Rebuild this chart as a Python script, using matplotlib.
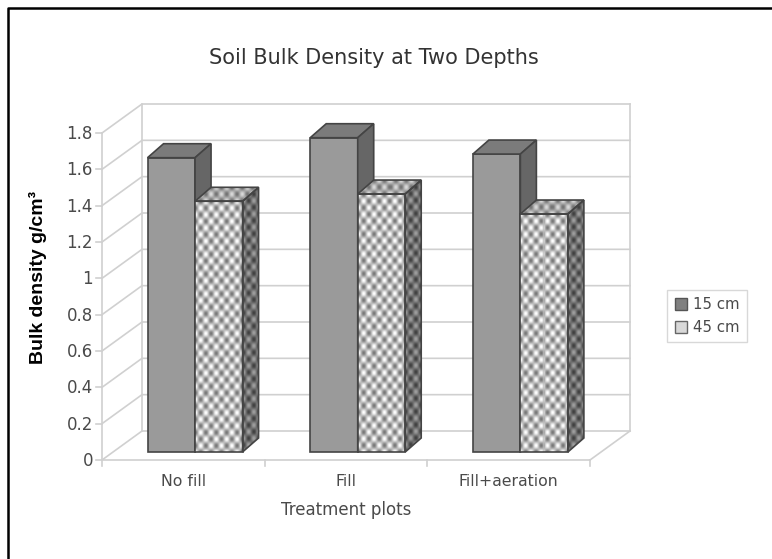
import numpy as np
import matplotlib
matplotlib.use("Agg")
import matplotlib.pyplot as plt
from matplotlib.lines import Line2D
from matplotlib.patches import Polygon

categories = ["No fill", "Fill", "Fill+aeration"]
depth_15 = [1.62, 1.73, 1.64]
depth_45 = [1.38, 1.42, 1.31]
y_ticks = [0, 0.2, 0.4, 0.6, 0.8, 1, 1.2, 1.4, 1.6, 1.8]

W, H = 772, 559
GRID = "#d0d0d0"
TEXT = "#4a4a4a"

fig = plt.figure(figsize=(W / 100, H / 100), dpi=100)
# front plane of the fake 3d box, in pixels
left, right, top, bottom = 102, 590, 133, 460
ax = fig.add_axes([left / W, 1 - bottom / H, (right - left) / W, (bottom - top) / H])
ax.axis("off")

px = 3.0 / (right - left)    # data units per pixel, x
py = 1.8 / (bottom - top)    # data units per pixel, y


def textured(poly, lo, hi):
    # checker fill clipped to the face
    pts = poly.get_xy()
    x0, x1 = pts[:, 0].min(), pts[:, 0].max()
    y0, y1 = pts[:, 1].min(), pts[:, 1].max()
    nx = max(int(round((x1 - x0) / px)), 2)
    ny = max(int(round((y1 - y0) / py)), 2)
    xx, yy = np.meshgrid(np.arange(nx), np.arange(ny))
    wave = np.cos(np.pi * xx / 5.2) * np.cos(np.pi * yy / 6.6)
    im = ax.imshow(lo + (hi - lo) * (wave + 1) / 2, extent=[x0, x1, y0, y1], cmap="gray",
                   vmin=0, vmax=1, aspect="auto", interpolation="nearest", zorder=3)
    poly.set_clip_on(False)
    ax.add_patch(poly)
    im.set_clip_path(poly)


# box walls
wall_dx, wall_dy = 40 * px, 29 * py
ax.plot([-0.5, -0.5], [0, 1.8], color=GRID, lw=1.2, clip_on=False)
ax.plot([-0.5 + wall_dx, -0.5 + wall_dx], [wall_dy, 1.8 + wall_dy], color=GRID, lw=1.2, clip_on=False)
ax.plot([2.5 + wall_dx, 2.5 + wall_dx], [wall_dy, 1.8 + wall_dy], color=GRID, lw=1.2, clip_on=False)
ax.plot([-0.5, 2.5], [0, 0], color=GRID, lw=1.2, clip_on=False)
ax.plot([2.5, 2.5 + wall_dx], [0, wall_dy], color=GRID, lw=1.2, clip_on=False)
for v in y_ticks:
    ax.plot([-0.5, -0.5 + wall_dx, 2.5 + wall_dx], [v, v + wall_dy, v + wall_dy],
            color=GRID, lw=1.2, clip_on=False)
    ax.plot([-0.5 - 6 * px, -0.5], [v, v], color=GRID, lw=1.2, clip_on=False)
    ax.text(-0.5 - 9 * px, v - 1 * py, str(v), ha="right", va="center", fontsize=12, color=TEXT)
for b in range(4):
    ax.plot([b - 0.5, b - 0.5], [0, -6 * py], color=GRID, lw=1.2, clip_on=False)

# bars
bar_w = 47.5 * px
base = 8 * py
dx, dy = 16 * px, 14 * py
edge = "#444444"
for i in range(3):
    xl = i + 0.072 - bar_w
    xm = i + 0.072
    xr = xm + bar_w

    t = base + depth_15[i]
    ax.bar(xl, depth_15[i], bar_w, bottom=base, align="edge", facecolor="#9a9a9a",
           edgecolor=edge, lw=1.2, zorder=2, clip_on=False)
    ax.add_patch(Polygon([(xl, t), (xm, t), (xm + dx, t + dy), (xl + dx, t + dy)],
                         facecolor="#7b7b7b", edgecolor=edge, lw=1.2, zorder=2, clip_on=False))
    ax.add_patch(Polygon([(xm, base), (xm + dx, base + dy), (xm + dx, t + dy), (xm, t)],
                         facecolor="#666666", edgecolor=edge, lw=1.2, zorder=2, clip_on=False))

    t = base + depth_45[i]
    textured(Polygon([(xm, base), (xr, base), (xr, t), (xm, t)],
                     facecolor="none", edgecolor=edge, lw=1.2, zorder=4), 0.47, 1.0)
    textured(Polygon([(xm, t), (xr, t), (xr + dx, t + dy), (xm + dx, t + dy)],
                     facecolor="none", edgecolor=edge, lw=1.2, zorder=4), 0.45, 0.85)
    textured(Polygon([(xr, base), (xr + dx, base + dy), (xr + dx, t + dy), (xr, t)],
                     facecolor="none", edgecolor=edge, lw=1.2, zorder=4), 0.25, 0.62)

ax.set_xlim(-0.5, 2.5)
ax.set_ylim(0, 1.8)

for i, name in enumerate(categories):
    ax.text(i, -22 * py, name, ha="center", va="center", fontsize=11.3, color=TEXT)

fig.text(373.5 / W, 1 - 58 / H, "Soil Bulk Density at Two Depths", ha="center", va="center",
         fontsize=15, color="#333333")
fig.text(346 / W, 1 - 510 / H, "Treatment plots", ha="center", va="center",
         fontsize=12, color=TEXT)
fig.text(38 / W, 1 - 278 / H, "Bulk density g/cm³", rotation=90, ha="center",
         va="center", fontsize=14, fontweight="bold", family="Liberation Sans", color="black")

handles = [
    Line2D([], [], ls="none", marker="s", ms=9, mfc="#808080", mec="#555555", label="15 cm"),
    Line2D([], [], ls="none", marker="s", ms=9, mfc="#d8d8d8", mec="#666666", label="45 cm"),
]
ax.legend(handles=handles, loc="center left", bbox_to_anchor=(667 / W, 1 - 316 / H),
          bbox_transform=fig.transFigure, frameon=True, fancybox=False, framealpha=1,
          edgecolor="#d8d8d8", fontsize=10.8, labelcolor=TEXT, handlelength=0.9,
          handletextpad=0.4, borderpad=0.45, labelspacing=0.55, borderaxespad=0)

# only the top and left rules of the page frame are in the picture
fig.add_artist(Line2D([7.7 / W, 7.7 / W, 1], [0, 1 - 8 / H, 1 - 8 / H],
                      transform=fig.transFigure, color="black", lw=1.8))

plt.savefig("out.png", dpi=100)
